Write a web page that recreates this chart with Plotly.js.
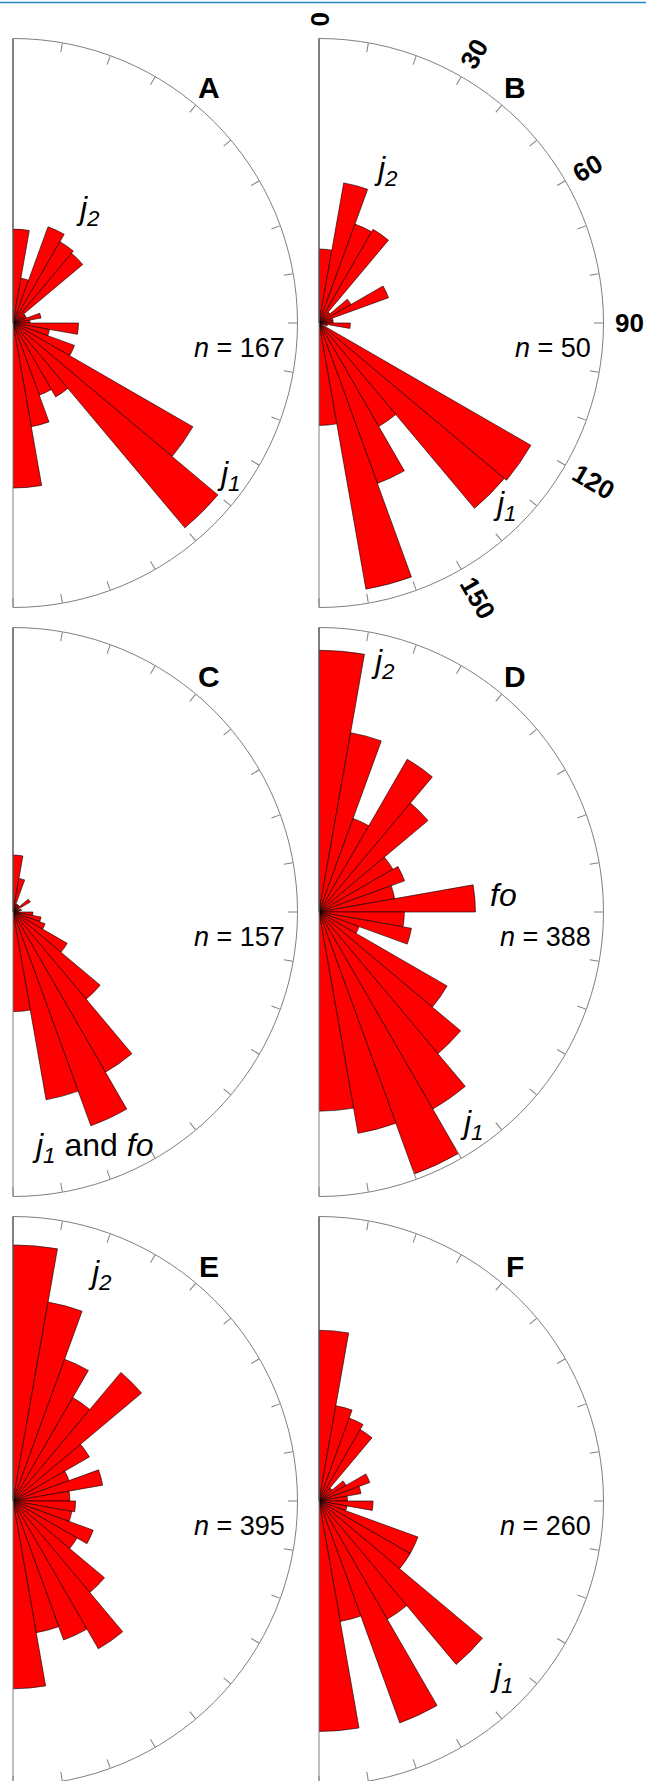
<!DOCTYPE html>
<html><head><meta charset="utf-8">
<script src="https://cdn.plot.ly/plotly-3.0.1.min.js"></script>
<style>html,body{margin:0;padding:0;overflow:hidden;background:#fff}#chart{width:646px;height:1788px}</style>
</head><body><div id="chart"></div>
<script>
// 10-degree orientation bins (bin centres, degrees from north, 0-180)
const binCenters = [5,15,25,35,45,55,65,75,85,95,105,115,125,135,145,155,165,175];
// bar lengths, % of the outer circle radius
const panelA = [33,16,36,33,32,5,5,10,6,23,13,23,73,94,30,27,37,58];
const panelB = [26,50,37,38,5,13,26,5,5,11,3,0,86,85,42,60,95,36];
const panelC = [20,12,3,3,3,7,2,3,2,7,10,12,22,40,65,80,67,35];
const panelD = [92,64,35,62,50,30,32,27,55,30,33,15,52,65,80,98,79,70];
const panelE = [90,71,53,42,59,31,21,32,20,22,21,30,26,42,60,52,47,66];
const panelF = [60,34,31,29,6,11,19,15,10,19,10,37,37,75,48,83,43,81];
const panelLetters = ['A','B','C','D','E','F'];
const sampleSizes = [167,50,157,388,395,260];
const scaleTicks = [0,30,60,90,120,150];

const W = 646, H = 1788, R = 284.5;
const series = [panelA,panelB,panelC,panelD,panelE,panelF];
const lefts = [13,319,13,319,13,319];
const centresY = [323,323,912,912,1501,1501];
const px = x => x / W, py = y => 1 - y / H;

const data = [], annotations = [];
const layout = {
  width: W, height: H, margin:{l:0,r:0,t:0,b:0},
  paper_bgcolor:'#fff', showlegend:false,
  font:{family:'Arial, "Liberation Sans", sans-serif', color:'#000'},
  shapes:[{type:'line', xref:'paper', yref:'paper', x0:0, x1:1, y0:py(2.5), y1:py(2.5),
           line:{color:'#2a86c0', width:1.5}}],
  annotations: annotations
};

series.forEach((vals,i)=>{
  const key = i===0 ? 'polar' : 'polar'+(i+1);
  const left = lefts[i], cy = centresY[i];
  layout[key] = {
    domain:{x:[px(left), px(left+R)], y:[py(cy+R), py(cy-R)]},
    sector:[-90,90], bgcolor:'rgba(0,0,0,0)',
    angularaxis:{rotation:90, direction:'clockwise', thetaunit:'degrees',
      dtick:10, tick0:0, ticks:'inside', ticklen:9, tickwidth:1, tickcolor:'#808080',
      showline:true, linecolor:'#808080', linewidth:1, showgrid:false, showticklabels:false},
    radialaxis:{range:[0,100], angle:90, showline:true, linecolor:'#404040', linewidth:1,
      showgrid:false, ticks:'', showticklabels:false}
  };
  data.push({type:'barpolar', subplot:key, r:vals, theta:binCenters, width:10,
    marker:{color:'#ff0000', line:{color:'#000', width:0.6}}, hoverinfo:'skip'});
  annotations.push({xref:'paper', yref:'paper', x:px(left+196), y:py(cy-235),
    text:'<b>'+panelLetters[i]+'</b>', showarrow:false, font:{size:30},
    xanchor:'center', yanchor:'middle'});
  annotations.push({xref:'paper', yref:'paper', x:px(left+274), y:py(cy+25),
    text:'<i>n</i> = '+sampleSizes[i], showarrow:false, font:{size:27},
    xanchor:'right', yanchor:'middle'});
});

// set labels (offsets from each panel's centre)
const jLabels = [
  [0, 75, -113, '<i>j<sub>2</sub></i>', 'center'],
  [0, 216, 152, '<i>j<sub>1</sub></i>', 'center'],
  [1, 67, -153, '<i>j<sub>2</sub></i>', 'center'],
  [1, 186, 182, '<i>j<sub>1</sub></i>', 'center'],
  [2, 17, 235, '<i>j<sub>1</sub></i> and <i>fo</i>', 'left'],
  [3, 64, -249, '<i>j<sub>2</sub></i>', 'center'],
  [3, 184, -17, '<i>fo</i>', 'center'],
  [3, 153, 212, '<i>j<sub>1</sub></i>', 'center'],
  [4, 87, -227, '<i>j<sub>2</sub></i>', 'center'],
  [5, 183, 176, '<i>j<sub>1</sub></i>', 'center']
];
jLabels.forEach(([p,dx,dy,t,xa])=>{
  annotations.push({xref:'paper', yref:'paper', x:px(lefts[p]+dx), y:py(centresY[p]+dy),
    text:t, showarrow:false, font:{size:32}, xanchor:xa, yanchor:'middle'});
});

// rotated angle labels around panel B
scaleTicks.forEach(a=>{
  const txt = String(a);
  const dist = R + 12 + txt.length*7;
  const rad = a*Math.PI/180;
  annotations.push({xref:'paper', yref:'paper',
    x:px(lefts[1] + dist*Math.sin(rad)), y:py(centresY[1] - dist*Math.cos(rad)),
    text:'<b>'+txt+'</b>', textangle:a-90, showarrow:false, font:{size:26},
    xanchor:'center', yanchor:'middle'});
});

Plotly.newPlot('chart', data, layout, {staticPlot:true});
</script></body></html>
